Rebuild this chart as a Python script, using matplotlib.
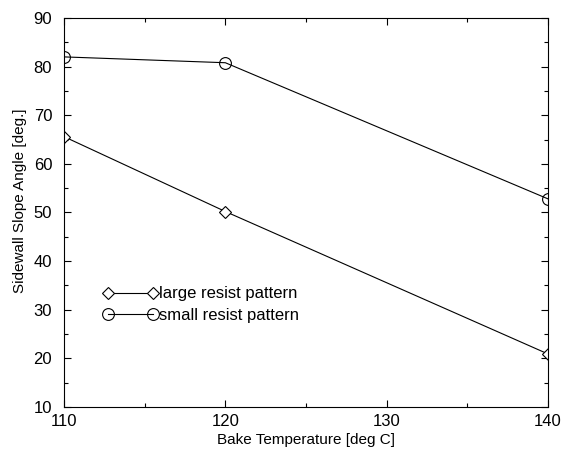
import matplotlib
matplotlib.use("Agg")
import matplotlib.pyplot as plt
from matplotlib.ticker import MultipleLocator

# data
bake_temp = [110, 120, 140]
large_angle = [65.6, 50.2, 20.9]
small_angle = [82.0, 80.8, 52.8]

plt.rcParams['font.family'] = ['Liberation Sans', 'DejaVu Sans']

fig = plt.figure(figsize=(5.63, 4.5), dpi=100)
ax = fig.add_axes([0.1137, 0.0956, 0.8597, 0.8644])

ax.plot(bake_temp, large_angle, color='black', lw=0.8, marker='D', ms=6.5,
        mfc='white', mec='black', mew=0.8, label='large resist pattern')
ax.plot(bake_temp, small_angle, color='black', lw=0.8, marker='o', ms=8.5,
        mfc='none', mec='black', mew=0.8, label='small resist pattern')

ax.set_xlim(110, 140)
ax.set_ylim(10, 90)
ax.xaxis.set_major_locator(MultipleLocator(10))
ax.xaxis.set_minor_locator(MultipleLocator(5))
ax.yaxis.set_major_locator(MultipleLocator(10))
ax.yaxis.set_minor_locator(MultipleLocator(5))
ax.tick_params(which='both', direction='in', top=True, right=True, width=0.8)
ax.tick_params(which='major', length=5, labelsize=12)
ax.tick_params(axis='x', which='major', pad=5)
ax.tick_params(axis='y', which='major', pad=8.5)
ax.tick_params(which='minor', length=3)
for s in ax.spines.values():
    s.set_linewidth(0.8)

ax.set_xlabel('Bake Temperature [deg C]', fontsize=11, labelpad=3)
ax.set_ylabel('Sidewall Slope Angle [deg.]', fontsize=11, labelpad=5, y=0.53)

ax.legend(loc='upper left', bbox_to_anchor=(0.0806, 0.31), frameon=False,
          numpoints=2, handlelength=3.3, handletextpad=0.05, fontsize=12,
          labelspacing=0.4, borderaxespad=0, borderpad=0)

fig.savefig('out.png', dpi=100)
